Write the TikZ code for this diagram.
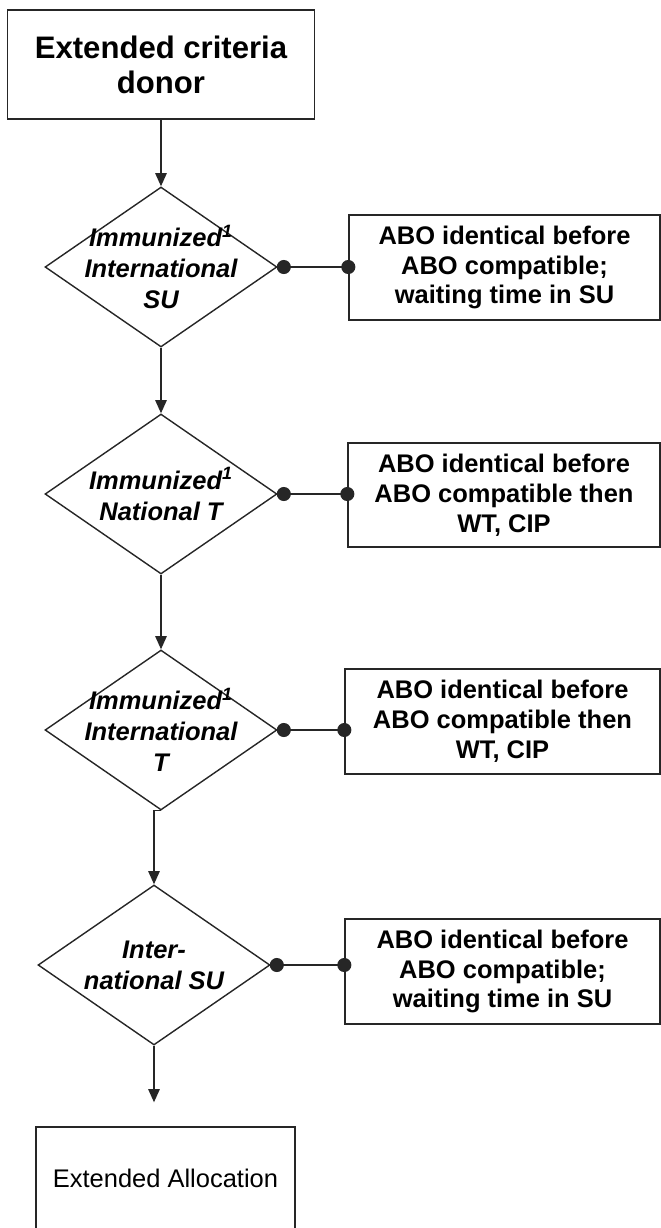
\documentclass[tikz,border=0pt]{standalone}
\usepackage{fontspec}
\setmainfont{Liberation Sans}
\usetikzlibrary{shapes.geometric,arrows.meta}

\begin{document}
\begin{tikzpicture}[x=0.02cm,y=-0.02cm,line width=0.8pt,
  box/.style={draw=black!85,rectangle,inner sep=0pt,align=center},
  decision/.style={draw=black!85,diamond,inner sep=0pt,minimum width=4.64cm,minimum height=3.2cm},
  dtext/.style={align=center,font=\bfseries\itshape\fontsize{14.5}{17.6}\selectfont},
  rule/.style={box,font=\bfseries\fontsize{14.5}{17}\selectfont},
  flow/.style={draw=black!85,-{Triangle[length=7.5pt,width=6.5pt]}},
  link/.style={draw=black!85,{Circle[length=8pt,width=8pt]}-{Circle[length=8pt,width=8pt]},
    shorten >=-4pt,shorten <=-0.5pt}]
  % Frame of the page.
  \path[use as bounding box,clip] (0,0) rectangle (661,1228);
  % Start box.
  \node[box,minimum width=6.14cm,minimum height=2.18cm,font=\bfseries\fontsize{17.7}{20}\selectfont]
    (donor) at (161,64.5) {Extended criteria\\donor};
  % Decisions down the left column.
  \node[decision] (d1) at (161,267) {};
  \node[dtext] (t1) at (d1) {Immunized\textsuperscript{1}\\International\\SU};
  \node[decision] (d2) at (161,494) {};
  \node[dtext] (t2) at (d2) {Immunized\textsuperscript{1}\\National T};
  \node[decision] (d3) at (161,730) {};
  \node[dtext] (t3) at (d3) {Immunized\textsuperscript{1}\\International\\T};
  \node[decision] (d4) at (154,965) {};
  \node[dtext] (t4) at (d4) {Inter-\\national SU};
  % Rules on the right.
  \node[rule,minimum width=6.22cm,minimum height=2.1cm] (r1) at (504.5,267.5)
    {ABO identical before\\ABO compatible;\\waiting time in SU};
  \node[rule,minimum width=6.24cm,minimum height=2.08cm] (r2) at (504,495)
    {ABO identical before\\ABO compatible then\\WT, CIP};
  \node[rule,minimum width=6.3cm,minimum height=2.1cm] (r3) at (502.5,721.5)
    {ABO identical before\\ABO compatible then\\WT, CIP};
  \node[rule,minimum width=6.3cm,minimum height=2.1cm] (r4) at (502.5,971.5)
    {ABO identical before\\ABO compatible;\\waiting time in SU};
  % End box.
  \node[box,minimum width=5.18cm,minimum height=2.06cm,font=\fontsize{14.5}{17}\selectfont]
    (alloc) at (165.5,1178.5) {Extended Allocation};
  % Flow down.
  \draw[flow] (donor.south) -- (d1.north);
  \draw[flow] (d1.south) -- (d2.north);
  \draw[flow] (d2.south) -- (d3.north);
  \draw[flow] (d3.south) -| (d4.north);
  \draw[flow,shorten >=0.48cm] (d4.south) -- (d4.south |- alloc.north);
  % Links to the rules.
  \draw[link] (d1.east) -- (d1.east -| r1.west);
  \draw[link] (d2.east) -- (d2.east -| r2.west);
  \draw[link] (d3.east) -- (d3.east -| r3.west);
  \draw[link] (d4.east) -- (d4.east -| r4.west);
\end{tikzpicture}
\end{document}
